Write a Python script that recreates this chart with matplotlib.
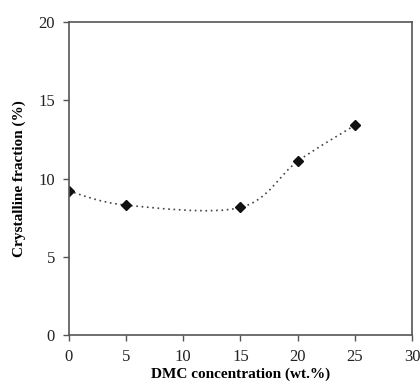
import matplotlib.pyplot as plt
from matplotlib.path import Path
from matplotlib.patches import PathPatch

# data
dmc = [0, 5, 15, 20, 25]
cryst = [9.2, 8.3, 8.15, 11.1, 13.4]
xticks = [0, 5, 10, 15, 20, 25, 30]
yticks = [0, 5, 10, 15, 20]

plt.rcParams['font.family'] = ['Liberation Serif', 'DejaVu Serif']


def smooth_path(xs, ys, t=1/6.0):
    # Excel-like smoothed line: Bezier segments with Catmull-Rom control points
    verts = [(xs[0], ys[0])]
    codes = [Path.MOVETO]
    n = len(xs)
    for i in range(n - 1):
        x0, y0 = xs[max(i - 1, 0)], ys[max(i - 1, 0)]
        x1, y1 = xs[i], ys[i]
        x2, y2 = xs[i + 1], ys[i + 1]
        x3, y3 = xs[min(i + 2, n - 1)], ys[min(i + 2, n - 1)]
        c1 = (x1 + (x2 - x0) * t, y1 + (y2 - y0) * t)
        c2 = (x2 - (x3 - x1) * t, y2 - (y3 - y1) * t)
        verts += [c1, c2, (x2, y2)]
        codes += [Path.CURVE4] * 3
    return Path(verts, codes)


fig = plt.figure(figsize=(4.2, 3.86), dpi=100)
ax = fig.add_axes([0.164, 0.132, 0.817, 0.811])

patch = PathPatch(smooth_path(dmc, cryst), facecolor='none', edgecolor='#444444',
                  linestyle=(0, (1, 2.2)), linewidth=1.2)
ax.add_patch(patch)
ax.plot(dmc, cryst, linestyle='none', marker='D', markersize=5.5, color='#111111')

ax.set_xlim(0, 30)
ax.set_ylim(0, 20)
ax.set_xticks(xticks)
ax.set_yticks(yticks)
ax.tick_params(direction='out', length=4, width=1, colors='#555555', labelsize=12,
               labelcolor='#222222', pad=6)
for s in ax.spines.values():
    s.set_color('#555555')
    s.set_linewidth(1.2)

ax.set_xlabel('DMC concentration (wt.%)', fontsize=11, fontweight='bold', labelpad=2)
ax.set_ylabel('Crystalline fraction (%)', fontsize=11, fontweight='bold', labelpad=9)

fig.savefig('out.png', dpi=100)
